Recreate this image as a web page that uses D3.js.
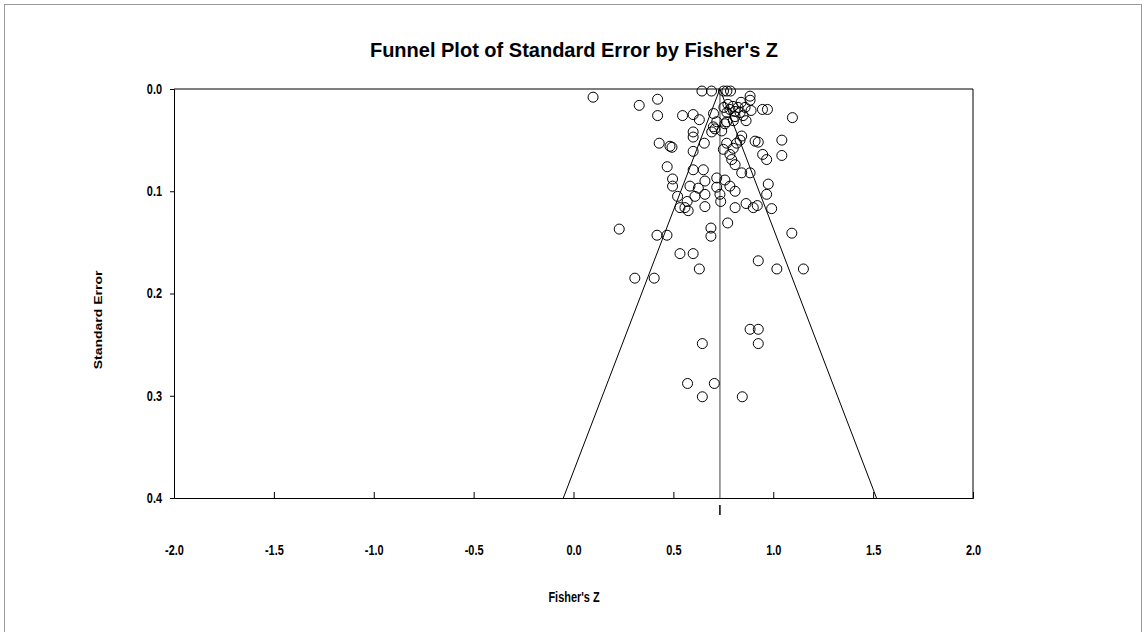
<!DOCTYPE html>
<html>
<head>
<meta charset="utf-8">
<script src="https://cdn.jsdelivr.net/npm/d3@7"></script>
<style>
  body { margin: 0; background: #fff; }
  svg text { font-family: "Liberation Sans", Arial, sans-serif; font-weight: bold; fill: #000; }
</style>
</head>
<body>
<svg id="chart" width="1146" height="632"></svg>
<script>
// study effects (Fisher's Z) and their standard errors
const fisherZ = [
  0.643, 0.691, 0.751, 0.768, 0.786, 0.098, 0.884, 0.884, 0.421, 0.329,
  0.421, 0.546, 0.599, 0.630, 0.701, 0.946, 0.971, 1.096, 0.889, 0.864,
  0.717, 0.767, 0.800, 0.773, 0.798, 0.824, 0.783, 0.809, 0.834, 0.849,
  0.809, 0.768, 0.839, 0.859, 0.753, 0.599, 0.599, 0.655, 0.692, 0.708,
  0.742, 0.700, 0.758, 0.429, 0.483, 0.493, 0.599, 0.842, 0.834, 0.817,
  0.800, 0.767, 0.750, 0.783, 0.792, 0.809, 0.842, 0.884, 0.909, 0.925,
  1.043, 1.043, 0.947, 0.967, 0.469, 0.599, 0.650, 0.496, 0.496, 0.521,
  0.583, 0.625, 0.608, 0.569, 0.558, 0.533, 0.574, 0.658, 0.658, 0.658,
  0.717, 0.717, 0.758, 0.783, 0.809, 0.733, 0.737, 0.809, 0.864, 0.900,
  0.920, 0.992, 0.975, 0.967, 0.772, 0.688, 0.688, 0.229, 0.418, 0.468,
  0.533, 0.599, 0.630, 1.093, 0.925, 1.018, 1.151, 0.307, 0.404, 0.884,
  0.925, 0.925, 0.645, 0.571, 0.705, 0.645, 0.845
];
const stdErr = [
  0.002, 0.002, 0.002, 0.002, 0.002, 0.008, 0.007, 0.011, 0.010, 0.016,
  0.026, 0.026, 0.025, 0.030, 0.024, 0.020, 0.020, 0.028, 0.021, 0.031,
  0.032, 0.032, 0.031, 0.015, 0.017, 0.018, 0.020, 0.022, 0.023, 0.026,
  0.027, 0.023, 0.013, 0.018, 0.018, 0.042, 0.047, 0.053, 0.042, 0.039,
  0.041, 0.037, 0.034, 0.053, 0.056, 0.057, 0.061, 0.046, 0.050, 0.053,
  0.058, 0.053, 0.059, 0.064, 0.069, 0.074, 0.082, 0.082, 0.051, 0.052,
  0.050, 0.065, 0.064, 0.069, 0.076, 0.079, 0.079, 0.088, 0.095, 0.105,
  0.095, 0.097, 0.105, 0.110, 0.116, 0.116, 0.119, 0.115, 0.103, 0.090,
  0.087, 0.096, 0.089, 0.095, 0.100, 0.103, 0.110, 0.116, 0.112, 0.116,
  0.114, 0.117, 0.093, 0.103, 0.131, 0.136, 0.144, 0.137, 0.143, 0.143,
  0.161, 0.161, 0.176, 0.141, 0.168, 0.176, 0.176, 0.185, 0.185, 0.235,
  0.235, 0.249, 0.249, 0.288, 0.288, 0.301, 0.301
];
const meanZ = 0.733;
const xTicks = [-2.0, -1.5, -1.0, -0.5, 0.0, 0.5, 1.0, 1.5, 2.0];
const yTicks = [0.0, 0.1, 0.2, 0.3, 0.4];

const svg = d3.select("#chart");
const plotLeft = 174, plotRight = 973, plotTop = 89, plotBottom = 498;
const squeeze = 0.78; // axis text in the original is horizontally condensed
const fmt = d => d.toFixed(1);

const x = d3.scaleLinear().domain([-2, 2]).range([plotLeft, plotRight]);
const y = d3.scaleLinear().domain([0, 0.4]).range([plotTop, plotBottom]);

// outer frame
svg.append("rect")
  .attr("x", 4.5).attr("y", 4.5)
  .attr("width", 1137).attr("height", 640)
  .attr("fill", "none").attr("stroke", "#999").attr("stroke-width", 1);

// title
svg.append("text")
  .attr("x", 574).attr("y", 57)
  .attr("text-anchor", "middle")
  .style("font-size", "20px")
  .text("Funnel Plot of Standard Error by Fisher's Z");

// plot box: top and right edges
svg.append("path")
  .attr("d", `M${plotLeft},${plotTop}H${plotRight}V${plotBottom}`)
  .attr("fill", "none").attr("stroke", "#000").attr("stroke-width", 1);

// y axis
const yAxis = svg.append("g")
  .attr("transform", `translate(${plotLeft},0)`)
  .call(d3.axisLeft(y).tickValues(yTicks).tickFormat(fmt).tickSize(4));
yAxis.selectAll("text")
  .style("font-size", "14px")
  .attr("x", -12 / squeeze)
  .attr("transform", `scale(${squeeze},1)`);

// x axis, ticks pointing up into the plot
const xAxis = svg.append("g")
  .attr("transform", `translate(0,${plotBottom})`)
  .call(d3.axisBottom(x).tickValues(xTicks).tickFormat(fmt).tickSize(-6));
xAxis.selectAll("text")
  .style("font-size", "14px")
  .attr("y", 57).attr("dy", 0)
  .attr("transform", `scale(${squeeze},1)`);
svg.selectAll(".domain").attr("stroke", "#000");

// axis titles
svg.append("text")
  .attr("transform", `translate(102,320) scale(${squeeze},1) rotate(-90)`)
  .attr("text-anchor", "middle")
  .style("font-size", "14px")
  .text("Standard Error");

svg.append("text")
  .attr("transform", `translate(574,602) scale(${squeeze},1)`)
  .attr("text-anchor", "middle")
  .style("font-size", "14px")
  .text("Fisher's Z");

// mean line
svg.append("line")
  .attr("x1", x(meanZ)).attr("x2", x(meanZ))
  .attr("y1", y(0)).attr("y2", y(0.4))
  .attr("stroke", "#808080").attr("stroke-width", 1.5);

// 95% funnel
const funnel = [[meanZ - 1.96 * 0.4, 0.4], [meanZ, 0], [meanZ + 1.96 * 0.4, 0.4]];
svg.append("path")
  .attr("d", d3.line().x(d => x(d[0])).y(d => y(d[1]))(funnel))
  .attr("fill", "none").attr("stroke", "#000").attr("stroke-width", 1);

// mean marker below the axis
svg.append("line")
  .attr("x1", x(meanZ)).attr("x2", x(meanZ))
  .attr("y1", plotBottom + 7).attr("y2", plotBottom + 17)
  .attr("stroke", "#000").attr("stroke-width", 1.5);

// study points
svg.append("g")
  .selectAll("circle")
  .data(fisherZ.map((z, i) => ({ z, se: stdErr[i] })))
  .join("circle")
  .attr("cx", d => x(d.z))
  .attr("cy", d => y(d.se))
  .attr("r", 5)
  .attr("fill", "none")
  .attr("stroke", "#000")
  .attr("stroke-width", 1);
</script>
</body>
</html>
